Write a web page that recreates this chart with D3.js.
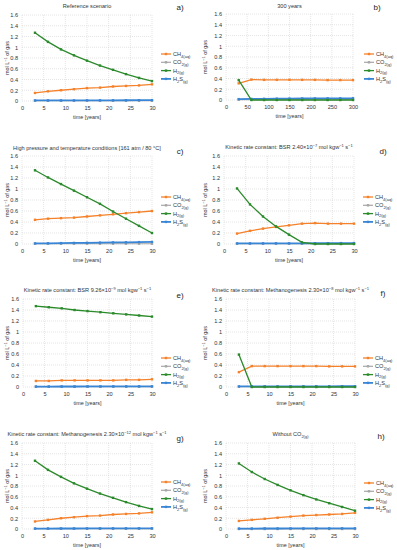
<!DOCTYPE html>
<html lang="en">
<head>
  <meta charset="utf-8">
  <title>Gas evolution scenarios</title>
  <script src="https://cdnjs.cloudflare.com/ajax/libs/d3/7.8.5/d3.min.js"></script>
  <style>
    body { margin: 0; background: #fff; }
    svg { font-family: "Liberation Sans", Arial, sans-serif; }
    .grid line { stroke: #d4d4d4; stroke-width: 0.6px; stroke-dasharray: 1,1; }
    .axis text { font-size: 5.6px; fill: #333; }
    .axis path, .axis line { display: none; }
    .title { font-size: 5.6px; fill: #333; }
    .tag { font-size: 8px; fill: #222; }
    .lbl { font-size: 5.4px; fill: #333; }
    .leg { font-size: 5.6px; fill: #333; }
  </style>
</head>
<body>
<svg width="397" height="550"></svg>
<script>
// time axes
var years = [3, 6, 9, 12, 15, 18, 21, 24, 27, 30];
var years300 = [30, 60, 90, 120, 150, 180, 210, 240, 270, 300];

// a) reference scenario
var aCH4 = [0.15, 0.18, 0.20, 0.22, 0.24, 0.25, 0.27, 0.28, 0.29, 0.31];
var aCO2 = [0.005, 0.005, 0.005, 0.005, 0.005, 0.005, 0.005, 0.005, 0.005, 0.005];
var aH2  = [1.27, 1.10, 0.96, 0.85, 0.75, 0.66, 0.58, 0.50, 0.43, 0.37];
var aH2S = [0.01, 0.01, 0.01, 0.01, 0.012, 0.012, 0.013, 0.014, 0.015, 0.016];

// b) 300 years
var bCH4 = [0.31, 0.38, 0.375, 0.375, 0.375, 0.375, 0.375, 0.37, 0.37, 0.37];
var bCO2 = [0.005, 0.005, 0.005, 0.005, 0.005, 0.005, 0.005, 0.005, 0.005, 0.005];
var bH2  = [0.37, 0.0, 0.0, 0.0, 0.0, 0.0, 0.0, 0.0, 0.0, 0.0];
var bH2S = [0.016, 0.02, 0.022, 0.024, 0.026, 0.028, 0.029, 0.03, 0.031, 0.032];

// c) high pressure / temperature
var cCH4 = [0.44, 0.46, 0.47, 0.48, 0.50, 0.52, 0.54, 0.56, 0.58, 0.60];
var cCO2 = [0.005, 0.005, 0.005, 0.005, 0.005, 0.005, 0.005, 0.005, 0.005, 0.005];
var cH2  = [1.34, 1.21, 1.09, 0.97, 0.85, 0.73, 0.59, 0.46, 0.33, 0.20];
var cH2S = [0.01, 0.013, 0.016, 0.019, 0.022, 0.025, 0.028, 0.031, 0.034, 0.037];

// d) BSR 2.40e-7
var dCH4 = [0.19, 0.24, 0.28, 0.31, 0.34, 0.37, 0.38, 0.37, 0.37, 0.37];
var dCO2 = [0.005, 0.005, 0.005, 0.005, 0.005, 0.005, 0.005, 0.005, 0.005, 0.005];
var dH2  = [1.01, 0.72, 0.50, 0.32, 0.17, 0.03, 0.0, 0.0, 0.0, 0.0];
var dH2S = [0.01, 0.01, 0.011, 0.012, 0.012, 0.013, 0.014, 0.015, 0.016, 0.017];

// e) BSR 9.26e-9
var eCH4 = [0.11, 0.11, 0.12, 0.12, 0.12, 0.12, 0.12, 0.13, 0.13, 0.14];
var eCO2 = [0.005, 0.005, 0.005, 0.005, 0.005, 0.005, 0.005, 0.005, 0.005, 0.005];
var eH2  = [1.47, 1.45, 1.43, 1.40, 1.38, 1.36, 1.34, 1.32, 1.30, 1.28];
var eH2S = [0.008, 0.008, 0.009, 0.009, 0.01, 0.01, 0.011, 0.011, 0.012, 0.012];

// f) methanogenesis 2.30e-8
var fCH4 = [0.27, 0.38, 0.38, 0.38, 0.38, 0.38, 0.38, 0.375, 0.375, 0.375];
var fCO2 = [0.005, 0.005, 0.005, 0.005, 0.005, 0.005, 0.005, 0.005, 0.005, 0.005];
var fH2  = [0.59, 0.0, 0.0, 0.0, 0.0, 0.0, 0.0, 0.0, 0.0, 0.0];
var fH2S = [0.01, 0.01, 0.011, 0.011, 0.012, 0.012, 0.013, 0.013, 0.014, 0.014];

// g) methanogenesis 2.30e-12
var gCH4 = [0.14, 0.17, 0.20, 0.22, 0.24, 0.25, 0.27, 0.28, 0.29, 0.31];
var gCO2 = [0.005, 0.005, 0.005, 0.005, 0.005, 0.005, 0.005, 0.005, 0.005, 0.005];
var gH2  = [1.27, 1.10, 0.97, 0.85, 0.75, 0.66, 0.58, 0.50, 0.43, 0.37];
var gH2S = [0.008, 0.008, 0.009, 0.009, 0.01, 0.01, 0.011, 0.011, 0.012, 0.012];

// h) without CO2
var hCH4 = [0.15, 0.17, 0.19, 0.21, 0.23, 0.25, 0.26, 0.27, 0.28, 0.30];
var hCO2 = [0.0, 0.0, 0.0, 0.0, 0.0, 0.0, 0.0, 0.0, 0.0, 0.0];
var hH2  = [1.22, 1.06, 0.93, 0.82, 0.72, 0.63, 0.55, 0.48, 0.41, 0.34];
var hH2S = [0.008, 0.008, 0.009, 0.009, 0.01, 0.01, 0.011, 0.011, 0.012, 0.012];

var yTicks = [0, 0.2, 0.4, 0.6, 0.8, 1, 1.2, 1.4, 1.6];
var xTicks30 = [0, 5, 10, 15, 20, 25, 30];
var xTicks300 = [0, 50, 100, 150, 200, 250, 300];

// series look + legend labels (text pieces, "sub"/"sup" marks a shifted piece)
var species = [
  {key: "CO2", label: [["CO"], ["2(g)", "sub"]], color: "#a6a6a6", w: 1.2},
  {key: "H2S", label: [["H"], ["2", "sub"], ["S"], ["(g)", "sub"]], color: "#3a86d6", w: 1.8},
  {key: "CH4", label: [["CH"], ["4(aq)", "sub"]], color: "#f5812a", w: 1.3},
  {key: "H2",  label: [["H"], ["2(g)", "sub"]], color: "#2b8a2b", w: 1.3}
];
var legendOrder = ["CH4", "CO2", "H2", "H2S"];

var rate = function(head, exp) {
  return [[head + "×10"], [exp, "sup"], [" mol kgw"], ["−1", "sup"], [" s"], ["−1", "sup"]];
};

var panels = [
  {tag: "a)", title: [["Reference scenario"]], t: years, xt: xTicks30, xmax: 30,
   d: {CH4: aCH4, CO2: aCO2, H2: aH2, H2S: aH2S},
   box: [22, 15, 152, 101], titleY: 6, tagX: 180, tagY: 7, legX: 161, legY: 54, ylabX: 7},
  {tag: "b)", title: [["300 years"]], t: years300, xt: xTicks300, xmax: 300,
   d: {CH4: bCH4, CO2: bCO2, H2: bH2, H2S: bH2S},
   box: [226, 14, 353, 100], titleY: 6, tagX: 377, tagY: 7, legX: 364, legY: 54, ylabX: 205},
  {tag: "c)", title: [["High pressure and temperature conditions [161 atm / 80 °C]"]], t: years, xt: xTicks30, xmax: 30,
   d: {CH4: cCH4, CO2: cCO2, H2: cH2, H2S: cH2S},
   box: [22, 156, 152, 244], titleY: 148, tagX: 180, tagY: 151, legX: 161, legY: 197, ylabX: 7},
  {tag: "d)", title: rate("Kinetic rate constant: BSR 2.40", "−7"), t: years, xt: xTicks30, xmax: 30,
   d: {CH4: dCH4, CO2: dCO2, H2: dH2, H2S: dH2S},
   box: [224, 156, 354, 244], titleY: 147, tagX: 383, tagY: 151, legX: 363, legY: 197, ylabX: 205},
  {tag: "e)", title: rate("Kinetic rate constant: BSR 9.26", "−9"), t: years, xt: xTicks30, xmax: 30,
   d: {CH4: eCH4, CO2: eCO2, H2: eH2, H2S: eH2S},
   box: [23, 299, 152, 387], titleY: 290, tagX: 180, tagY: 295, legX: 161, legY: 358, ylabX: 7},
  {tag: "f)", title: rate("Kinetic rate constant: Methanogenesis 2.30", "−8"), t: years, xt: xTicks30, xmax: 30,
   d: {CH4: fCH4, CO2: fCO2, H2: fH2, H2S: fH2S},
   box: [226, 299, 355, 387], titleY: 290, tagX: 383, tagY: 293, legX: 363, legY: 358, ylabX: 205},
  {tag: "g)", title: rate("Kinetic rate constant: Methanogenesis 2.30", "−12"), t: years, xt: xTicks30, xmax: 30,
   d: {CH4: gCH4, CO2: gCO2, H2: gH2, H2S: gH2S},
   box: [22, 443, 152, 529], titleY: 434, tagX: 180, tagY: 438, legX: 161, legY: 482, ylabX: 7},
  {tag: "h)", title: [["Without CO"], ["2(g)", "sub"]], t: years, xt: xTicks30, xmax: 30,
   d: {CH4: hCH4, CO2: hCO2, H2: hH2, H2S: hH2S},
   box: [226, 443, 355, 529], titleY: 434, tagX: 381, tagY: 436, legX: 364, legY: 483, ylabX: 205}
];

var svg = d3.select("svg");

// write text pieces, moving sub/superscripts with dy and returning to baseline
function addRich(sel, parts) {
  var shift = 0;
  parts.forEach(function(p) {
    var want = p[1] === "sup" ? -2 : p[1] === "sub" ? 1.6 : 0;
    var ts = sel.append("tspan").text(p[0]).attr("dy", want - shift);
    if (p[1]) ts.style("font-size", "4px");
    shift = want;
  });
}

panels.forEach(function(p) {
  var x0 = p.box[0], y0 = p.box[1], x1 = p.box[2], y1 = p.box[3];
  var x = d3.scaleLinear().domain([0, p.xmax]).range([x0, x1]);
  var y = d3.scaleLinear().domain([0, 1.6]).range([y1, y0]);
  var g = svg.append("g");

  // grid
  var grid = g.append("g").attr("class", "grid");
  grid.selectAll(".gx").data(p.xt).enter().append("line")
      .attr("x1", function(d) { return x(d); }).attr("x2", function(d) { return x(d); })
      .attr("y1", y0).attr("y2", y1);
  grid.selectAll(".gy").data(yTicks).enter().append("line")
      .attr("y1", function(d) { return y(d); }).attr("y2", function(d) { return y(d); })
      .attr("x1", x0).attr("x2", x1);

  // axes
  g.append("g").attr("class", "axis")
      .attr("transform", "translate(0," + y1 + ")")
      .call(d3.axisBottom(x).tickValues(p.xt).tickSize(0).tickPadding(5));
  g.append("g").attr("class", "axis")
      .attr("transform", "translate(" + x0 + ",0)")
      .call(d3.axisLeft(y).tickValues(yTicks).tickSize(0).tickPadding(4).tickFormat(d3.format("")));

  // axis titles
  g.append("text").attr("class", "lbl")
      .attr("x", (x0 + x1) / 2).attr("y", y1 + 18)
      .attr("text-anchor", "middle").text("time [years]");
  var yl = g.append("text").attr("class", "lbl")
      .attr("transform", "translate(" + p.ylabX + "," + ((y0 + y1) / 2) + ") rotate(-90)")
      .attr("text-anchor", "middle").attr("y", 2);
  addRich(yl, [["mol L"], ["−1", "sup"], [" of gas"]]);

  // title + tag
  var tt = g.append("text").attr("class", "title")
      .attr("x", (x0 + x1) / 2).attr("y", p.titleY + 2)
      .attr("text-anchor", "middle");
  addRich(tt, p.title);
  g.append("text").attr("class", "tag")
      .attr("x", p.tagX).attr("y", p.tagY).attr("dy", "0.35em")
      .attr("text-anchor", "middle").text(p.tag);

  // series
  var line = d3.line()
      .x(function(d) { return x(d[0]); })
      .y(function(d) { return y(d[1]); });
  species.forEach(function(s) {
    var pts = p.t.map(function(t, i) { return [t, p.d[s.key][i]]; });
    g.append("path").datum(pts)
        .attr("fill", "none").attr("stroke", s.color).attr("stroke-width", s.w)
        .attr("d", line);
    g.selectAll(".m" + s.key).data(pts).enter().append("rect")
        .attr("x", function(d) { return x(d[0]) - 1.2; })
        .attr("y", function(d) { return y(d[1]) - 1.2; })
        .attr("width", 2.4).attr("height", 2.4)
        .attr("fill", s.color);
  });

  // legend
  legendOrder.forEach(function(k, i) {
    var s = species.filter(function(v) { return v.key === k; })[0];
    var ly = p.legY + i * 8.3;
    g.append("line").attr("x1", p.legX).attr("x2", p.legX + 10)
        .attr("y1", ly).attr("y2", ly)
        .attr("stroke", s.color).attr("stroke-width", s.w);
    g.append("rect").attr("x", p.legX + 3.8).attr("y", ly - 1.2)
        .attr("width", 2.4).attr("height", 2.4).attr("fill", s.color);
    var lt = g.append("text").attr("class", "leg")
        .attr("x", p.legX + 12).attr("y", ly + 2);
    addRich(lt, s.label);
  });
});
</script>
</body>
</html>
